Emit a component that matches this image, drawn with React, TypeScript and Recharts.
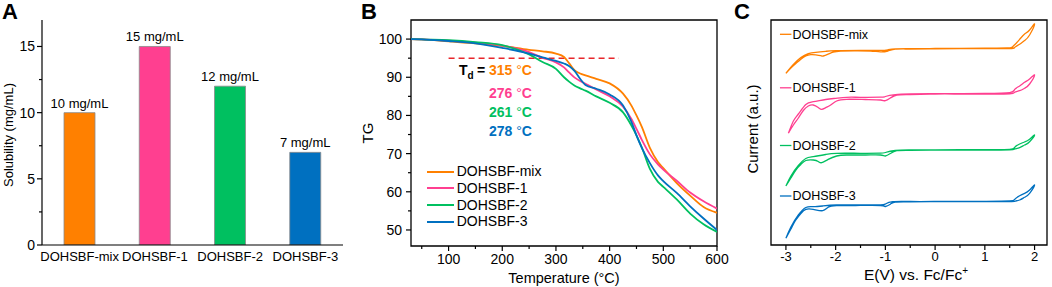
import React from "react";
import {
  BarChart,
  Bar,
  Cell,
  LabelList,
  LineChart,
  Line,
  XAxis,
  YAxis,
  ReferenceLine,
  ReferenceArea,
  Legend,
} from "recharts";

const FONT = "'Liberation Sans', Arial, sans-serif";

// ---- panel A: solubility ----
const samples = ["DOHSBF-mix", "DOHSBF-1", "DOHSBF-2", "DOHSBF-3"];
const solubility = [10, 15, 12, 7];
const sampleColors = ["#ff8000", "#ff3f90", "#00c060", "#0070c0"];
const solTicks = [0, 2.5, 5, 7.5, 10, 12.5, 15];

// ---- panel B: TG curves ----
const tgTemps = [30, 50, 100, 150, 200, 250, 275, 300, 315, 325, 335, 345, 355, 375, 400, 425, 440, 450, 460, 475, 490, 500, 525, 550, 575, 600];
const tgMix = [100, 99.9, 99.4, 98.9, 98.2, 97.2, 96.8, 96.2, 95.3, 93.6, 91.8, 91.0, 90.5, 89.6, 88.4, 85.7, 82.7, 80.0, 77.0, 71.5, 67.8, 66.2, 62.3, 59.0, 56.0, 54.5];
const tgOne = [100, 99.9, 99.6, 99.1, 98.3, 96.6, 95.1, 93.9, 92.6, 91.2, 89.9, 89.0, 88.3, 86.8, 85.0, 82.3, 79.2, 76.5, 73.6, 69.8, 67.2, 65.8, 62.9, 59.8, 57.5, 55.6];
const tgTwo = [100, 99.9, 99.7, 99.2, 98.4, 96.0, 94.0, 92.2, 90.0, 88.8, 87.8, 87.1, 86.5, 85.0, 83.3, 80.8, 77.5, 74.8, 71.6, 66.0, 62.6, 61.3, 58.0, 54.3, 51.5, 49.5];
const tgThree = [100, 99.9, 99.5, 98.9, 97.7, 96.2, 95.2, 94.3, 93.6, 92.9, 91.6, 89.6, 88.0, 87.0, 85.5, 82.6, 78.5, 74.8, 71.5, 67.5, 64.3, 62.8, 59.7, 56.2, 53.0, 50.0];
const tgKeys = ["mix", "one", "two", "three"];
const tgXTicks = [50, 100, 150, 200, 250, 300, 350, 400, 450, 500, 550, 600];
const tgYTicks = [50, 55, 60, 65, 70, 75, 80, 85, 90, 95, 100];
const tdValues = [315, 276, 261, 278];

const tgData = tgTemps.map((t, i) => ({
  t,
  mix: tgMix[i],
  one: tgOne[i],
  two: tgTwo[i],
  three: tgThree[i],
}));

// ---- panel C: CV loops (E vs Fc/Fc+, offset current) ----
const cvMix = [
  [-3.0, 171.7], [-2.9, 177], [-2.8, 181.5], [-2.7, 185.8], [-2.6, 189.2], [-2.5, 190.4], [-2.4, 190.2], [-2.3, 189.3], [-2.25, 189], [-2.15, 190.8], [-2.05, 192.8], [-1.9, 194], [-1.6, 194.2], [-1.3, 194], [-1.1, 193.2], [-0.95, 194], [-0.8, 195.8], [-0.5, 196], [0, 196.2], [0.5, 196.3], [1.0, 196.4], [1.5, 196.5], [1.6, 197.6], [1.7, 200.8], [1.8, 204.5], [1.9, 210], [2.0, 221],
  [1.9, 215], [1.8, 211], [1.7, 205.7], [1.6, 200.2], [1.55, 198], [1.45, 197], [1.0, 196.8], [0.5, 196.6], [0, 196.5], [-0.5, 196.3], [-0.8, 196.1], [-0.95, 195.2], [-1.1, 194.6], [-1.5, 194.6], [-2.0, 194.3], [-2.2, 193.7], [-2.4, 192.7], [-2.55, 191.3], [-2.7, 187.5], [-2.85, 180.5], [-3.0, 171.7],
];
const cvOne = [
  [-2.95, 111.7], [-2.85, 120], [-2.75, 127], [-2.65, 134.5], [-2.55, 139], [-2.45, 140], [-2.35, 137.5], [-2.28, 135.7], [-2.2, 137.3], [-2.1, 140], [-1.98, 144], [-1.78, 145.7], [-1.4, 145.5], [-1.1, 145], [-1.0, 144.3], [-0.9, 147], [-0.77, 150], [-0.5, 150.5], [0, 151], [0.5, 151], [1.0, 151], [1.5, 151.2], [1.6, 152.7], [1.7, 154.3], [1.8, 156.7], [1.9, 161], [2.0, 170],
  [1.9, 166], [1.8, 162.7], [1.7, 159], [1.6, 155.7], [1.5, 152.3], [1.0, 151.5], [0.5, 151.4], [0, 151.3], [-0.5, 151], [-0.8, 150.3], [-1.0, 148.5], [-1.1, 147.8], [-1.5, 147.7], [-1.78, 147.7], [-2.0, 146.7], [-2.2, 145.5], [-2.45, 143.3], [-2.6, 140.5], [-2.75, 131], [-2.85, 124], [-2.95, 111.7],
];
const cvTwo = [
  [-3.0, 59], [-2.9, 67], [-2.8, 75], [-2.7, 80.5], [-2.6, 84.5], [-2.45, 85], [-2.35, 83.5], [-2.28, 82.3], [-2.15, 85.7], [-1.98, 89], [-1.78, 90], [-1.4, 90], [-1.1, 90], [-1.0, 89], [-0.9, 91.5], [-0.77, 94.3], [-0.5, 94.7], [0, 95], [0.5, 95], [1.0, 95], [1.5, 95.2], [1.6, 96], [1.7, 97.3], [1.8, 100], [1.9, 103.3], [2.0, 110],
  [1.9, 105.7], [1.8, 103], [1.7, 101], [1.6, 97.7], [1.5, 95.6], [1.0, 95.4], [0.5, 95.3], [0, 95.2], [-0.5, 95], [-0.8, 94.5], [-1.0, 92.5], [-1.1, 91.8], [-1.5, 91.7], [-1.98, 91.7], [-2.2, 90.5], [-2.45, 88.3], [-2.6, 86.5], [-2.75, 79.5], [-2.9, 69], [-3.0, 59],
];
const cvThree = [
  [-3.0, 6.7], [-2.9, 16], [-2.8, 25], [-2.7, 31.5], [-2.6, 35.7], [-2.45, 35.7], [-2.26, 34.3], [-2.15, 37.7], [-1.98, 39.3], [-1.6, 39.5], [-1.1, 39.5], [-1.0, 38.5], [-0.9, 40.8], [-0.8, 43], [-0.5, 43.2], [0, 43.3], [0.5, 43.3], [1.0, 43.4], [1.5, 43.5], [1.6, 43.7], [1.7, 45], [1.8, 47.7], [1.9, 51.7], [2.0, 60],
  [1.9, 55], [1.8, 51.7], [1.7, 49.3], [1.6, 45.7], [1.5, 44], [1.0, 43.7], [0.5, 43.6], [0, 43.5], [-0.5, 43.5], [-0.85, 43.3], [-1.0, 41], [-1.1, 40.2], [-1.5, 40], [-1.98, 40], [-2.26, 39], [-2.45, 38.3], [-2.6, 37.5], [-2.75, 30], [-2.9, 18], [-3.0, 6.7],
];
const cvCurves = [cvMix, cvOne, cvTwo, cvThree];
const cvLabelLevels = [210.7, 157.2, 99.5, 49];
const cvTicks = [-3, -2.5, -2, -1.5, -1, -0.5, 0, 0.5, 1, 1.5, 2];

const barData = samples.map((name, i) => ({ name, value: solubility[i] }));

// tick with major/minor length, label only on majors
const tickFn =
  (side: "left" | "bottom", step: number, fontSize: number, gap: number) =>
  (p: any) => {
    const v = p.payload.value;
    const major = Math.abs(v / step - Math.round(v / step)) < 1e-6;
    const len = major ? 5 : 3;
    if (side === "left") {
      return (
        <g>
          <line x1={p.x - len} x2={p.x} y1={p.y} y2={p.y} stroke="#000" strokeWidth={1.2} />
          {major && (
            <text x={p.x - gap} y={p.y} textAnchor="end" dominantBaseline="central" fontSize={fontSize} fontFamily={FONT} fill="#000">
              {v}
            </text>
          )}
        </g>
      );
    }
    return (
      <g>
        <line x1={p.x} x2={p.x} y1={p.y} y2={p.y + len} stroke="#000" strokeWidth={1.2} />
        {major && (
          <text x={p.x} y={p.y + gap} textAnchor="middle" dominantBaseline="central" fontSize={fontSize} fontFamily={FONT} fill="#000">
            {v}
          </text>
        )}
      </g>
    );
  };

const BarValueLabel = (p: any) => (
  <text x={p.x + p.width / 2} y={p.y - 5} textAnchor="middle" fontSize={13} fontFamily={FONT} fill="#000">
    {`${p.value} mg/mL`}
  </text>
);

const TgLegend = () => (
  <div style={{ fontFamily: FONT, fontSize: 14, color: "#000" }}>
    {samples.map((s, i) => (
      <div key={s} style={{ display: "flex", alignItems: "center", height: 16.7 }}>
        <div style={{ width: 27, height: 2, background: sampleColors[i], marginRight: 3 }} />
        <span style={{ lineHeight: "16.7px" }}>{s}</span>
      </div>
    ))}
  </div>
);

const App = () => (
  <div style={{ position: "absolute", left: 0, top: 0, width: 1052, height: 287, background: "#fff", fontFamily: FONT }}>
    {/* A */}
    <div style={{ position: "absolute", left: 0, top: 0 }}>
      <BarChart width={360} height={287} data={barData} margin={{ top: 20, right: 17, bottom: 12, left: 12 }}>
        <XAxis
          dataKey="name"
          height={30}
          tickLine={false}
          tickSize={0}
          tickMargin={7}
          interval={0}
          axisLine={{ stroke: "#000", strokeWidth: 1.2 }}
          tick={{ fontSize: 13, fill: "#000", fontFamily: FONT }}
        />
        <YAxis
          width={30}
          type="number"
          domain={[0, 17]}
          ticks={solTicks}
          interval={0}
          allowDataOverflow
          tickLine={false}
          tickSize={0}
          tickMargin={0}
          axisLine={{ stroke: "#000", strokeWidth: 1.2 }}
          tick={tickFn("left", 5, 14, 7)}
        />
        <Bar dataKey="value" barSize={31} stroke="#8a8a8a" strokeWidth={0.8} isAnimationActive={false}>
          {barData.map((d, i) => (
            <Cell key={d.name} fill={sampleColors[i]} />
          ))}
          <LabelList dataKey="value" content={BarValueLabel} />
        </Bar>
      </BarChart>
    </div>

    {/* B */}
    <div style={{ position: "absolute", left: 360, top: 0 }}>
      <LineChart width={370} height={287} data={tgData} margin={{ top: 20, right: 13, bottom: 11, left: 6 }}>
        <XAxis
          dataKey="t"
          type="number"
          domain={[30, 600]}
          ticks={tgXTicks}
          interval={0}
          allowDataOverflow
          height={30}
          axisLine={false}
          tickLine={false}
          tickSize={0}
          tickMargin={0}
          tick={tickFn("bottom", 100, 14, 12.5)}
        />
        <YAxis
          type="number"
          domain={[45.8, 105]}
          ticks={tgYTicks}
          interval={0}
          allowDataOverflow
          width={45}
          axisLine={false}
          tickLine={false}
          tickSize={0}
          tickMargin={0}
          tick={tickFn("left", 10, 14, 9)}
        />
        <ReferenceArea x1={30} x2={600} y1={45.8} y2={105} fill="none" stroke="#000" strokeWidth={1.3} />
        <ReferenceLine
          segment={[
            { x: 100, y: 95 },
            { x: 417, y: 95 },
          ]}
          stroke="#e8262b"
          strokeWidth={1.5}
          strokeDasharray="6 4"
        />
        {tgKeys.map((k, i) => (
          <Line
            key={k}
            dataKey={k}
            type="monotone"
            stroke={sampleColors[i]}
            strokeWidth={1.8}
            dot={false}
            activeDot={false}
            isAnimationActive={false}
          />
        ))}
        <Legend
          layout="vertical"
          align="center"
          verticalAlign="middle"
          content={() => <TgLegend />}
          wrapperStyle={{ left: 66.7, top: 163.3, width: "auto" }}
        />
      </LineChart>
    </div>

    {/* C */}
    <div style={{ position: "absolute", left: 700, top: 0 }}>
      <LineChart width={352} height={287} margin={{ top: 20, right: 5, bottom: 12, left: 71 }}>
        <XAxis
          dataKey="e"
          type="number"
          domain={[-3.3, 2.25]}
          ticks={cvTicks}
          interval={0}
          allowDataOverflow
          height={30}
          axisLine={false}
          tickLine={false}
          tickSize={0}
          tickMargin={0}
          tick={tickFn("bottom", 1, 13, 11)}
        />
        <YAxis type="number" domain={[0, 225]} allowDataOverflow hide />
        <ReferenceArea x1={-3.3} x2={2.25} y1={0} y2={225} fill="none" stroke="#000" strokeWidth={1.3} />
        {cvCurves.map((c, i) => (
          <Line
            key={samples[i]}
            data={c.map(([e, cur]) => ({ e, cur }))}
            dataKey="cur"
            type="natural"
            stroke={sampleColors[i]}
            strokeWidth={1.3}
            dot={false}
            activeDot={false}
            isAnimationActive={false}
          />
        ))}
        {samples.map((s, i) => (
          <ReferenceLine
            key={s}
            segment={[
              { x: -3.12, y: cvLabelLevels[i] },
              { x: -2.89, y: cvLabelLevels[i] },
            ]}
            stroke={sampleColors[i]}
            strokeWidth={1.3}
            label={{ value: s, position: "right", offset: 1, fontSize: 12.5, fill: "#000", fontFamily: FONT }}
          />
        ))}
      </LineChart>
    </div>

    {/* titles and annotations */}
    <svg width={1052} height={287} style={{ position: "absolute", left: 0, top: 0, pointerEvents: "none" }} fontFamily={FONT}>
      <text x={2} y={19} fontSize={22} fontWeight="bold">A</text>
      <text x={361} y={18.5} fontSize={22} fontWeight="bold">B</text>
      <text x={734} y={18.5} fontSize={22} fontWeight="bold">C</text>

      <text transform="translate(8.5,135) rotate(-90)" textAnchor="middle" dominantBaseline="central" fontSize={13}>
        Solubility (mg/mL)
      </text>
      <text transform="translate(367.5,133) rotate(-90)" textAnchor="middle" dominantBaseline="central" fontSize={15}>
        TG
      </text>
      <text x={564} y={278} textAnchor="middle" dominantBaseline="central" fontSize={14.5}>
        Temperature (°C)
      </text>
      <text transform="translate(752,129) rotate(-90)" textAnchor="middle" dominantBaseline="central" fontSize={15}>
        Current (a.u.)
      </text>
      <text x={916} y={280} textAnchor="middle" fontSize={15.5}>
        E(V) vs. Fc/Fc<tspan fontSize={10} dy={-6}>+</tspan>
      </text>

      <text x={459} y={75} fontSize={14} fontWeight="bold">
        T<tspan fontSize={10} dy={4}>d</tspan>
        <tspan x={477} dy={-4}>=</tspan>
      </text>
      {tdValues.map((td, i) => (
        <text key={td} x={489} y={[75, 98, 117, 136][i]} fontSize={14} fontWeight="bold" fill={sampleColors[i]}>
          {td} <tspan fontWeight="normal">°</tspan>C
        </text>
      ))}
    </svg>
  </div>
);

export default App;
